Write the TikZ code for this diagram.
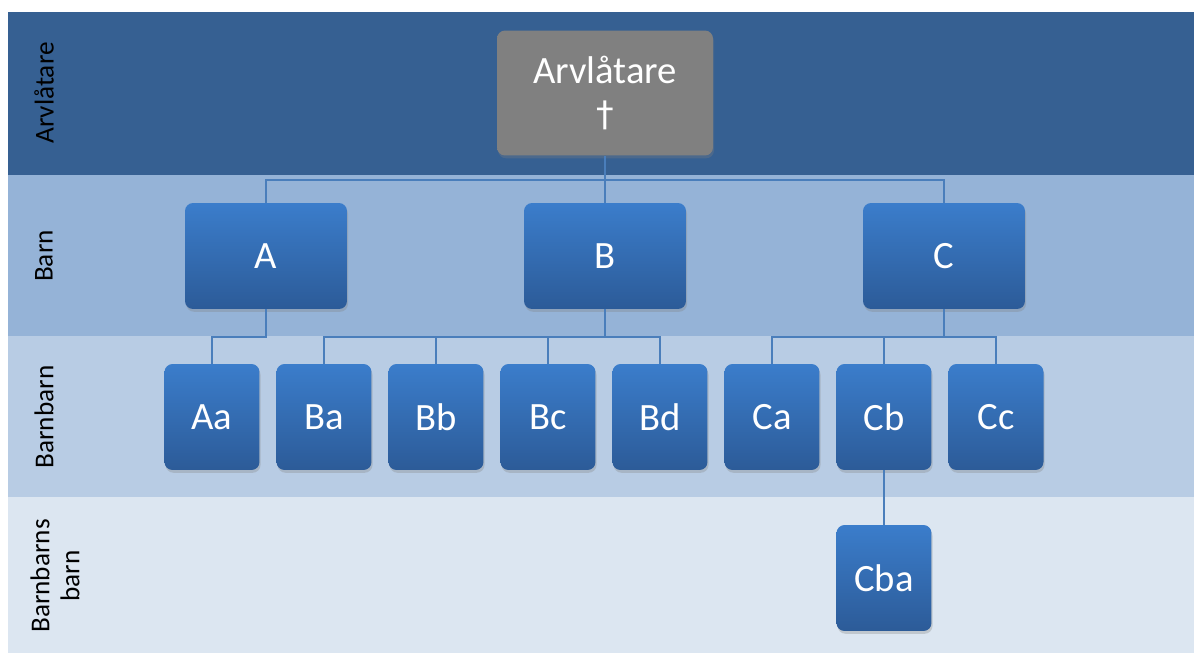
\documentclass[tikz,border=0pt]{standalone}
\usepackage{fontspec}
\setmainfont{Carlito}
\newfontfamily\crossfont{DejaVu Sans}
\usetikzlibrary{positioning,shadows}

\definecolor{rowone}{HTML}{366092}
\definecolor{rowtwo}{HTML}{95B3D7}
\definecolor{rowthree}{HTML}{B8CCE4}
\definecolor{rowfour}{HTML}{DCE6F1}
\definecolor{boxtop}{HTML}{3B7DCB}
\definecolor{boxbot}{HTML}{2C5B98}
\definecolor{linkcol}{HTML}{4A7EBB}

\begin{document}
\begin{tikzpicture}[x=0.02cm,y=-0.02cm]
    \tikzset{
        person/.style={rounded corners=0.16cm, top color=boxtop, bottom color=boxbot,
            text=white, font=\fontsize{22}{23}\selectfont, align=center, inner sep=0pt,
            drop shadow={shadow xshift=0.6pt, shadow yshift=-1.6pt, opacity=0.3}},
        gen/.style={person, minimum width=3.24cm, minimum height=2.12cm},
        small/.style={person, minimum width=1.9cm, minimum height=2.12cm},
        rowlabel/.style={rotate=90, font=\fontsize{15.5}{17}\selectfont, align=center},
        link/.style={draw=linkcol, line width=1.1pt}
    }

    \useasboundingbox (0,0) rectangle (1194,653);
    % rows
    \fill[rowone]   (8,12)  rectangle (1194,175);
    \fill[rowtwo]   (8,175) rectangle (1194,336);
    \fill[rowthree] (8,336) rectangle (1194,497);
    \fill[rowfour]  (8,497) rectangle (1194,653);

    \node[rowlabel] (lab1) at (44,93)  {Arvlåtare};
    \node[rowlabel] (lab2) at (44,256) {Barn};
    \node[rowlabel] (lab3) at (44,417) {Barnbarn};
    \node[rowlabel] (lab4) at (55,576) {Barnbarns\\barn};

    % the deceased
    \node[person, top color=gray!100, bottom color=gray!100, minimum width=4.32cm,
          minimum height=2.5cm] (arv) at (605,93) {Arvlåtare\\[1pt]{\crossfont\fontsize{20}{22}\selectfont †}};

    % children
    \node[gen] (a) at (266,256) {A};
    \node[gen] (b) at (605,256) {B};
    \node[gen] (c) at (944,256) {C};

    % grandchildren
    \node[small] (aa) at (212,417) {Aa};
    \node[small] (ba) at (324,417) {Ba};
    \node[small] (bb) at (436,417) {Bb};
    \node[small] (bc) at (548,417) {Bc};
    \node[small] (bd) at (660,417) {Bd};
    \node[small] (ca) at (772,417) {Ca};
    \node[small] (cb) at (884,417) {Cb};
    \node[small] (cc) at (996,417) {Cc};

    \node[small] (cba) at (884,578) {Cba};

    % links
    \foreach \k in {a,b,c}
        \draw[link] (arv.south) -- ++(0,24) -| (\k.north);
    \draw[link] (a.south) -- ++(0,28) -| (aa.north);
    \foreach \k in {ba,bb,bc,bd}
        \draw[link] (b.south) -- ++(0,28) -| (\k.north);
    \foreach \k in {ca,cb,cc}
        \draw[link] (c.south) -- ++(0,28) -| (\k.north);
    \draw[link] (cb.south) -- (cba.north);
\end{tikzpicture}
\end{document}
